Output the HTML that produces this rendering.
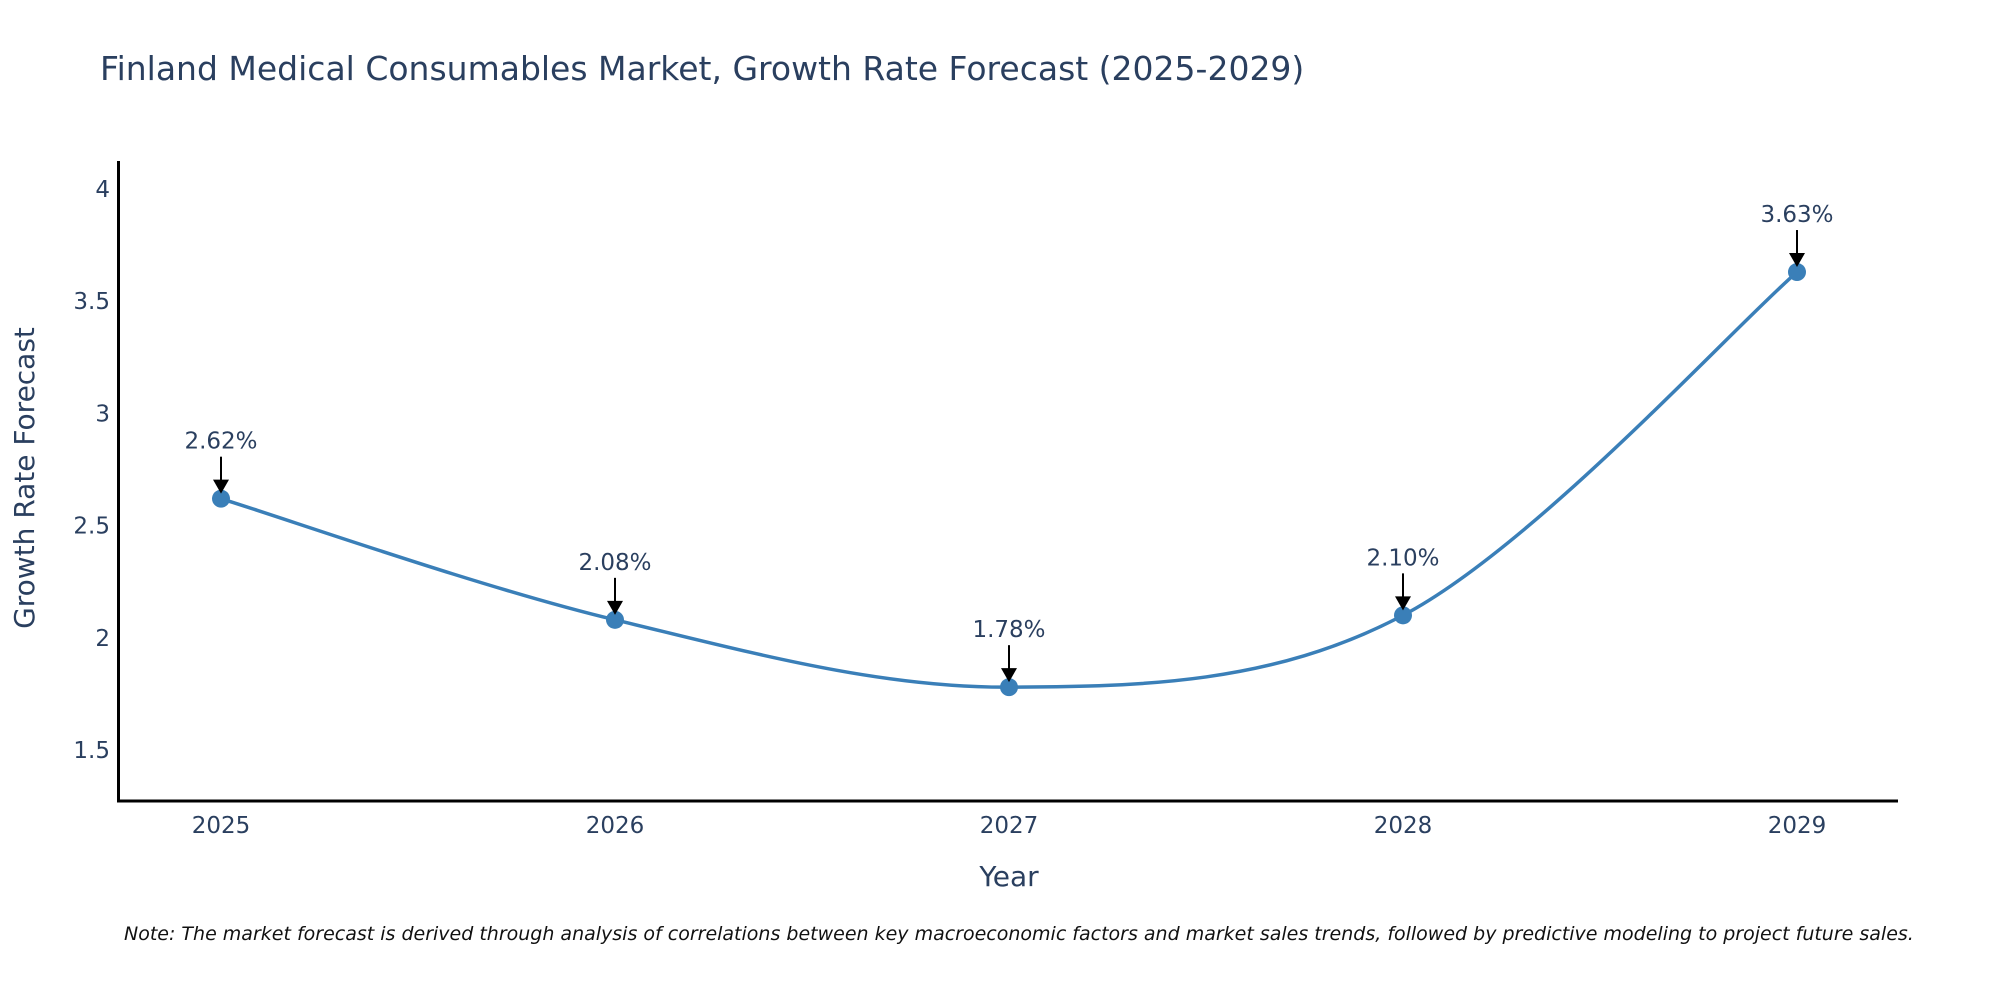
<!DOCTYPE html>
<html><head><meta charset="utf-8"><style>
body{margin:0;background:#fff;}
svg text{font-family:"DejaVu Sans","Liberation Sans",sans-serif;}
</style></head><body>
<svg id="chart" width="2000" height="1000" xmlns="http://www.w3.org/2000/svg">
<text x="100" y="80" font-size="33" fill="#2a3f5f">Finland Medical Consumables Market, Growth Rate Forecast (2025-2029)</text>
<path id="series-line" d="" fill="none" stroke="#3a7fb8" stroke-width="3.5"></path>
<g id="points"></g>
<g id="annotations"></g>
<line x1="118.5" y1="161" x2="118.5" y2="802" stroke="#000" stroke-width="3"/>
<line x1="117" y1="801" x2="1898" y2="801" stroke="#000" stroke-width="3"/>
<g id="yticks"></g>
<g id="xticks"></g>
<text x="1009" y="886" font-size="28" fill="#2a3f5f" text-anchor="middle">Year</text>
<text transform="translate(34,478) rotate(-90)" font-size="28" fill="#2a3f5f" text-anchor="middle">Growth Rate Forecast</text>
<text x="124" y="940" font-size="19" font-style="italic" fill="#111">Note: The market forecast is derived through analysis of correlations between key macroeconomic factors and market sales trends, followed by predictive modeling to project future sales.</text>
</svg>
<script>
const years = [2025, 2026, 2027, 2028, 2029];
const growth = [2.62, 2.08, 1.78, 2.10, 3.63];
const yTickValues = [1.5, 2, 2.5, 3, 3.5, 4];
const yTickLabels = ["1.5", "2", "2.5", "3", "3.5", "4"];

const NS = "http://www.w3.org/2000/svg";
function xScale(yr){ return 221 + (yr - 2025) * 394; }
function yScale(v){ return 750 - (v - 1.5) * 224.4; }
function mk(tag, attrs, parent, text){
  const el = document.createElementNS(NS, tag);
  for (const k in attrs) el.setAttribute(k, attrs[k]);
  if (text !== undefined) el.textContent = text;
  parent.appendChild(el);
  return el;
}
const yt = document.getElementById('yticks');
yTickValues.forEach((v, i) => {
  const t = mk('text', {x: 110, y: yScale(v) + 8, 'font-size': 23, fill: '#2a3f5f', 'text-anchor': 'end'}, yt, yTickLabels[i]);
  
  
});
const xt = document.getElementById('xticks');
years.forEach(yr => {
  const t = mk('text', {x: xScale(yr), y: 833, 'font-size': 23, fill: '#2a3f5f', 'text-anchor': 'middle'}, xt, String(yr));
  
  
});
const pts = years.map((yr, i) => [xScale(yr), yScale(growth[i])]);
let d = `M${pts[0][0]},${pts[0][1]}`;
const s = 1/6;
for (let i = 0; i < pts.length - 1; i++){
  const p0 = pts[i-1] || pts[i], p1 = pts[i], p2 = pts[i+1], p3 = pts[i+2] || pts[i+1];
  const c1 = [p1[0] + (p2[0]-p0[0])*s, p1[1] + (p2[1]-p0[1])*s];
  const c2 = [p2[0] - (p3[0]-p1[0])*s, p2[1] - (p3[1]-p1[1])*s];
  d += ` C${c1[0]},${c1[1]} ${c2[0]},${c2[1]} ${p2[0]},${p2[1]}`;
}
document.getElementById('series-line').setAttribute('d', d);
const pg = document.getElementById('points');
const ag = document.getElementById('annotations');
pts.forEach((p, i) => {
  const c = mk('circle', {cx: p[0], cy: p[1], r: 9, fill: '#3a7fb8'}, pg);
  
  
  const l = mk('line', {x1: p[0], y1: p[1] - 42, x2: p[0], y2: p[1] - 18, stroke: '#000', 'stroke-width': 2}, ag);
  
  
  const h = mk('polygon', {points: `${p[0]-8},${p[1]-19} ${p[0]+8},${p[1]-19} ${p[0]},${p[1]-5}`, fill: '#000'}, ag);
  
  
  const t = mk('text', {x: p[0], y: p[1] - 50, 'font-size': 23, fill: '#2a3f5f', 'text-anchor': 'middle'}, ag, growth[i].toFixed(2) + '%');
  
  
});
</script>
</body></html>
